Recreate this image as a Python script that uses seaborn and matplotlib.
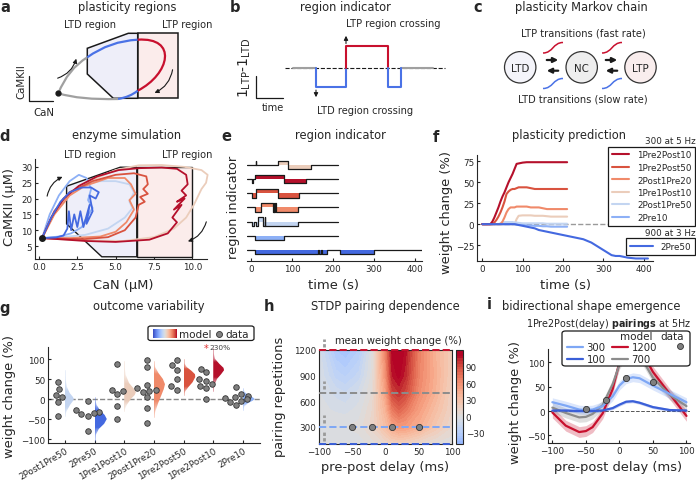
import numpy as np
import pandas as pd
import matplotlib
matplotlib.use("Agg")
import matplotlib.pyplot as plt
import seaborn as sns
from matplotlib.patches import Polygon, Circle, FancyArrowPatch, FancyBboxPatch, PathPatch
from matplotlib.path import Path
from matplotlib.lines import Line2D
from matplotlib.transforms import ScaledTranslation

W, H = 696, 481

# ---------------- data ----------------
conditions = ["2Post1Pre50", "2Pre50", "1Pre1Post10", "2Post1Pre20",
              "1Pre2Post50", "1Pre2Post10", "2Pre10"]
cond_colors = {"1Pre2Post10": "#b5102b", "1Pre2Post50": "#d9533f",
               "2Post1Pre20": "#f08a6a", "1Pre1Post10": "#ebcdbb",
               "2Post1Pre50": "#c3d5f1", "2Pre10": "#8db0f6", "2Pre50": "#4469e0"}

# d: enzyme trajectories (CaN, CaMKII) in uM
d_1Pre1Post10 = ([0.2, 1.0, 2.0, 3.5, 5.0, 6.5, 8.0, 9.5, 10.6, 11.0, 10.9, 10.6, 10.4, 10.1, 9.6, 8.8, 7.5, 5.5, 3.0, 1.2, 0.2],
                 [7.5, 15, 21, 26, 29, 30.5, 30.6, 30, 29, 27.5, 25, 23, 21, 18, 14, 10.5, 7.8, 6.6, 6.8, 7.2, 7.5])
d_1Pre2Post10 = ([0.2, 0.8, 1.6, 2.6, 3.8, 5.2, 6.5, 8.0, 9.0, 9.6, 9.7, 9.3, 9.6, 9.0, 9.5, 8.8, 9.3, 8.7, 9.0, 8.4, 7.2, 5.0, 3.0, 1.5, 0.2],
                 [7.5, 14, 20, 24, 27, 29, 29.6, 29.8, 29.4, 27.5, 24.5, 22.5, 21, 19, 20, 16.5, 18, 14, 12.5, 9, 7, 6.3, 6.6, 7.1, 7.5])
d_1Pre2Post50 = ([0.2, 1.0, 2.0, 3.5, 5.0, 6.2, 7.0, 7.1, 6.8, 7.1, 6.6, 6.9, 6.5, 6.3, 5.6, 4.5, 3.0, 1.5, 0.2],
                 [7.5, 16, 22, 25.5, 27.5, 28, 27, 24.5, 23, 21.5, 20.5, 19, 18, 14, 10, 7.8, 7.2, 7.3, 7.5])
d_2Post1Pre20 = ([0.2, 1.0, 2.0, 3.0, 4.5, 5.6, 6.0, 6.3, 5.9, 6.2, 5.7, 5.0, 4.0, 2.0, 0.2],
                 [7.5, 15, 21, 24, 26.5, 26.5, 24.5, 21.5, 19.5, 16.5, 12.5, 9.5, 8.0, 7.5, 7.5])
d_2Post1Pre50 = ([0.2, 1.0, 2.0, 3.0, 4.0, 5.0, 5.9, 6.2, 5.9, 6.1, 5.6, 4.5, 3.0, 1.5, 0.2],
                 [7.5, 16, 22, 24.5, 25.5, 25.5, 24.5, 22, 19, 17, 14, 10.5, 8.5, 7.8, 7.5])
d_2Pre10 = ([0.2, 0.7, 1.3, 2.0, 2.6, 3.1, 3.4, 3.2, 3.5, 3.1, 2.8, 2.1, 1.3, 0.2],
            [7.5, 15, 21, 25.5, 27.5, 26.5, 23, 19.5, 17, 14, 11, 9, 8, 7.5])
d_2Pre50 = ([0.2, 0.8, 1.4, 2.0, 2.8, 3.4, 3.9, 3.7, 3.3, 3.5, 3.1, 3.3, 2.9, 2.7, 2.5, 2.3, 2.1, 1.95, 1.85, 1.6, 1.1, 0.2],
            [7.5, 14, 19, 22, 23.5, 23.5, 22, 20, 21, 16, 12, 18, 11, 16, 11, 15, 10, 16, 10.5, 8.3, 7.7, 7.5])

# e: region indicator (switch times in s, state +1 LTP / -1 LTD)
e_1Pre1Post10 = ([-10, 12, 13, 67, 91, 146, 212], [0, 1, 0, 1, -1, 0, 0])
e_1Pre2Post10 = ([-10, 3, 5, 10, 81, 134, 212], [0, -1, 0, 1, -1, 0, 0])
e_1Pre2Post50 = ([-10, 3, 12, 65, 118, 212], [0, -1, 1, -1, 0, 0])
e_2Post1Pre20 = ([-10, 10, 24, 53, 55, 57, 59, 61, 115, 212], [0, -1, 1, -1, 1, -1, 1, -1, 0, 0])
e_2Post1Pre50 = ([-10, 3, 8, 11, 18, 30, 33, 35, 115, 212], [0, -1, 0, -1, 1, -1, 1, -1, 0, 0])
e_2Pre10 = ([-10, 10, 81, 212], [0, -1, 0, 0])
e_2Pre50 = ([-10, 10, 164, 165, 170, 172, 185, 217, 300, 416], [0, -1, 0, -1, 0, -1, 0, -1, 0, 0])
e_order = ["1Pre1Post10", "1Pre2Post10", "1Pre2Post50", "2Post1Pre20", "2Post1Pre50", "2Pre10", "2Pre50"]

# f: weight change over time
f_t300 = [0, 10, 20, 25, 30, 35, 40, 45, 50, 55, 60, 65, 70, 75, 80, 85, 90, 100, 110, 120,
          130, 140, 150, 160, 170, 180, 190, 200, 210]
f_1Pre2Post10 = [0, 0, 0, 3, 8, 14, 20, 27, 33, 38, 44, 50, 55, 60, 66, 72, 72.5, 73.5, 74, 74,
                 74, 74, 74, 74, 74, 74, 74, 74, 74]
f_1Pre2Post50 = [0, 0, 0, 0, 2, 5, 9, 14, 20, 27, 36, 39, 41, 42, 42, 43, 44, 44, 44, 43,
                 42, 42, 42, 42, 42, 42, 42, 42, 42]
f_2Post1Pre20 = [0, 0, 0, 0, 0, 0, 0, 0, 3, 8, 14, 18, 20, 20, 20, 21, 21, 21, 21, 20,
                 20, 20, 19, 18, 18, 18, 18, 18, 18]
f_1Pre1Post10 = [0, 0, 0, 0, 0, 0, 0, 0, 0, 0, 0, 0, 0, 0, 0, 6, 10, 10.5, 10.5, 10.5,
                 10, 10, 10, 9.5, 9, 9, 9, 9, 9]
f_2Post1Pre50 = [0, 0, 0, 0, 0, 0, 0, 1, 2, 2.5, 2.5, 2.5, 2.5, 2.5, 2, 2, 1.5, 1, 1, 1,
                 1, 1, 1, 0.5, 0.5, 0.5, 0.5, 0.5, 0.5]
f_2Pre10 = [0, 0, 0, 0, 0, 0, 0, 0, 0, 0, 0, 0, 0, 0, 0, -0.5, -1, -1, -1.5, -1.5,
            -2, -2, -2.5, -2.5, -3, -3, -3, -3, -3]
f_t900 = [0, 80, 90, 100, 110, 120, 130, 140, 150, 160, 170, 180, 190, 200, 210, 220, 230,
          240, 250, 260, 270, 280, 290, 300, 310, 320, 330, 340, 350, 360, 380, 400, 410]
f_2Pre50 = [0, 0, -1, -2, -3, -4, -5, -7, -8, -9, -10, -11, -12, -13, -14, -15, -16,
            -17, -18, -20, -22, -25, -28, -31, -34, -37, -38, -38, -39, -40, -41, -41, -41]
f_legend_300 = ["1Pre2Post10", "1Pre2Post50", "2Post1Pre20", "1Pre1Post10", "2Post1Pre50", "2Pre10"]

# g: experimental data points and model distributions (profile: values, half widths)
g_dots = {
    "2Post1Pre50": [42, 25, 11, 5, -8, -43],
    "2Pre50": [-5, -28, -32, -35, -38, -42, -80],
    "1Pre1Post10": [88, 23, 20, 13, -17, -50],
    "2Post1Pre20": [97, 80, 35, 27, 22, 20, 17, 5, -22, -60],
    "1Pre2Post50": [97, 85, 73, 50, 32, 22],
    "1Pre2Post10": [75, 67, 50, 45, 38, 32, 28, 0],
    "2Pre10": [30, 12, 8, 5, 2, 0, -4, -8, -15],
}
g_model_y = {
    "2Post1Pre50": [-42, -30, -15, -5, 0, 5, 15, 30, 50, 72],
    "2Pre50": [-105, -90, -75, -62, -50, -40, -28, -15, 0, 5],
    "1Pre1Post10": [-30, -15, 0, 10, 17, 25, 40, 60, 80, 95],
    "2Post1Pre20": [-45, -30, -10, 10, 25, 37, 50, 65, 80, 95],
    "1Pre2Post50": [10, 20, 30, 42, 55, 62, 70, 80, 90, 100],
    "1Pre2Post10": [20, 35, 50, 62, 72, 78, 88, 100, 115, 128],
    "2Pre10": [-28, -18, -10, -4, 0, 4, 10, 18, 28],
}
g_model_w = {
    "2Post1Pre50": [0, 0.06, 0.17, 0.27, 0.3, 0.27, 0.16, 0.07, 0.02, 0],
    "2Pre50": [0, 0.04, 0.14, 0.32, 0.41, 0.34, 0.18, 0.07, 0.01, 0],
    "1Pre1Post10": [0, 0.08, 0.22, 0.35, 0.39, 0.33, 0.16, 0.05, 0.01, 0],
    "2Post1Pre20": [0, 0.05, 0.14, 0.25, 0.33, 0.37, 0.3, 0.15, 0.04, 0],
    "1Pre2Post50": [0, 0.06, 0.16, 0.3, 0.39, 0.38, 0.27, 0.1, 0.02, 0],
    "1Pre2Post10": [0, 0.04, 0.12, 0.26, 0.36, 0.34, 0.2, 0.06, 0.01, 0],
    "2Pre10": [0, 0.05, 0.17, 0.33, 0.39, 0.33, 0.17, 0.05, 0],
}

# h: mean weight change (%) over delay x repetitions
h_delays = [-100, -75, -60, -40, -20, 0, 10, 20, 30, 50, 75, 100]
h_reps = [100, 300, 500, 700, 900, 1200]
h_change = [
    [-5, -5, -5, -3, 2, 10, 14, 15, 14, 8, 3, 0],
    [0, 0, 0, 2, 12, 32, 47, 54, 52, 42, 24, 10],
    [-3, -6, -7, -3, 10, 40, 70, 80, 72, 52, 32, 14],
    [-5, -12, -15, -8, 5, 50, 92, 100, 92, 62, 40, 15],
    [-5, -22, -26, -18, 2, 58, 105, 112, 102, 66, 42, 18],
    [-8, -35, -40, -30, 0, 65, 112, 118, 108, 68, 40, 20],
]
h_lines = [1200, 700, 300, 100]

# i: model curves and data
i_delays = [-100, -80, -60, -50, -40, -25, -10, 0, 10, 20, 30, 50, 75, 100]
i_100 = [1, 1, 0, 0, 0, 1, 6, 13, 19, 20, 17, 8, 2, 1]
i_300 = [18, 11, 3, 2, 3, 10, 30, 52, 65, 69, 67, 52, 35, 18]
i_700 = [7, -4, -13, -12, -6, 12, 55, 95, 120, 128, 115, 68, 33, 10]
i_1200 = [-3, -30, -43, -41, -33, -5, 45, 100, 135, 140, 130, 80, 35, -10]
i_band = {"100": 3, "300": 9, "700": 10, "1200": 11}
data_delays = [-50, -20, 10, 50]
data_change = [5, 23, 68, 60]
rep_colors = {"100": "#3a5fd8", "300": "#7ea7f5", "700": "#8c8c8c", "1200": "#c8102e"}

# ---------------- style ----------------
sns.set_theme(style="ticks", rc={
    "axes.linewidth": 0.8, "xtick.direction": "in", "ytick.direction": "in",
    "xtick.major.size": 2.5, "ytick.major.size": 2.5,
    "xtick.major.width": 0.8, "ytick.major.width": 0.8,
    "xtick.labelsize": 6.3, "ytick.labelsize": 6.3,
    "xtick.major.pad": 2, "ytick.major.pad": 2,
    "axes.labelsize": 9.4, "legend.fontsize": 6.3})
plt.rcParams["font.family"] = ["DejaVu Sans"]

fig = plt.figure(figsize=(6.96, 4.81), dpi=100)


def frect(l, t, r, b):
    return [l / W, 1 - b / H, (r - l) / W, (b - t) / H]


def ftext(x, y, s, **kw):
    fig.text(x / W, 1 - y / H, s, **kw)


def place_labels(ax, rect, xl=None, yl=None):
    l, t, r, b = rect
    if xl:
        ax.set_xlabel(xl[0], ha="center", va="center")
        ax.xaxis.set_label_coords((xl[1] - l) / (r - l), (b - xl[2]) / (b - t))
    if yl:
        ax.set_ylabel(yl[0], ha="center", va="center")
        ax.yaxis.set_label_coords((yl[1] - l) / (r - l), (b - yl[2]) / (b - t))


# schematic canvas in pixel units
cv = fig.add_axes([0, 0, 1, 1])
cv.set_xlim(0, W)
cv.set_ylim(H, 0)
cv.axis("off")

titles = [(127.5, 8, "plasticity regions"), (345, 7, "region indicator"),
          (581, 8, "plasticity Markov chain"), (126.7, 136, "enzyme simulation"),
          (340, 136, "region indicator"), (568.7, 136, "plasticity prediction"),
          (149, 307, "outcome variability"), (385, 307, "STDP pairing dependence"),
          (591.7, 307, "bidirectional shape emergence")]
for x, y, s in titles:
    ftext(x, y, s, ha="center", va="center", fontsize=8.3)
for x, y, s in [(5, 8, "a"), (235, 7, "b"), (478, 8, "c"), (5, 137, "d"), (226, 137, "e"),
                (436, 138, "f"), (5, 308, "g"), (269, 307, "h"), (489, 305, "i")]:
    ftext(x, y, s, ha="center", va="center", fontsize=10.5, fontweight="bold")

# ---- a: plasticity regions schematic ----
cv.add_patch(Polygon([(87.3, 49.3), (128.3, 34.3), (137.7, 34.3), (137.7, 99.3), (113.3, 99.3), (87.3, 75)],
                     closed=True, fc="#eeeef9", ec="k", lw=1.1))
cv.add_patch(Polygon([(137.7, 34.3), (177.7, 34.3), (177.7, 99.3), (137.7, 99.3)],
                     closed=True, fc="#fbeceb", ec="k", lw=1.1))
C3, C4, M = Path.CURVE3, Path.CURVE4, Path.MOVETO
for pts, codes, col in [
        ([(58.3, 94.3), (68, 70), (87.3, 58.3)], [M, C3, C3], "#a0a0a0"),
        ([(87.3, 58.3), (110, 42), (137.7, 40.7)], [M, C3, C3], "#4a72e6"),
        ([(137.7, 40.7), (178, 38), (170, 75), (137.7, 91.7)], [M, C4, C4, C4], "#c8102e"),
        ([(137.7, 91.7), (130, 98), (118, 100)], [M, C3, C3], "#4a72e6"),
        ([(118, 100), (80, 101), (58.3, 94.3)], [M, C3, C3], "#a0a0a0")]:
    cv.add_patch(PathPatch(Path(pts, codes), fill=False, ec=col, lw=1.6))
cv.plot([58.3], [94.3], "o", color="k", ms=3.5)
cv.add_patch(FancyArrowPatch((55, 80), (77, 57), connectionstyle="arc3,rad=0.3",
                             arrowstyle="-|>", mutation_scale=6, lw=0.8, color="k"))
cv.add_patch(FancyArrowPatch((173, 68), (152, 95), connectionstyle="arc3,rad=-0.3",
                             arrowstyle="-|>", mutation_scale=6, lw=0.8, color="k"))
cv.plot([29.3, 29.3, 53.3], [77, 101.7, 101.7], color="k", lw=0.9)
cv.text(21, 82, "CaMKII", rotation=90, ha="center", va="center", fontsize=7.4)
cv.text(44.3, 113.3, "CaN", ha="center", va="center", fontsize=7.4)
cv.text(90, 25, "LTD region", ha="center", va="center", fontsize=7.1)
cv.text(186.7, 25, "LTP region", ha="center", va="center", fontsize=7.1)

# ---- b: region indicator schematic ----
cv.plot([285, 445], [69, 69], color="k", ls="--", lw=0.8)
cv.plot([293, 316], [69, 69], color="#a0a0a0", lw=1.5)
cv.plot([400.7, 432.7], [69, 69], color="#a0a0a0", lw=1.5)
cv.plot([316, 316, 346, 346], [69, 88.3, 88.3, 69], color="#4a72e6", lw=1.5)
cv.plot([346, 346, 387.7, 387.7], [69, 47.3, 47.3, 69], color="#c8102e", lw=1.5)
cv.plot([387.7, 387.7, 400.7, 400.7], [69, 88.3, 88.3, 69], color="#4a72e6", lw=1.5)
cv.annotate("", xy=(346, 34), xytext=(346, 47.3),
            arrowprops=dict(arrowstyle="-|>", lw=0.8, color="k", mutation_scale=6))
cv.annotate("", xy=(316, 101), xytext=(316, 88.3),
            arrowprops=dict(arrowstyle="-|>", lw=0.8, color="k", mutation_scale=6))
cv.text(393.3, 24, "LTP region crossing", ha="center", va="center", fontsize=7.1)
cv.text(365, 110.7, "LTD region crossing", ha="center", va="center", fontsize=7.1)
cv.plot([256, 256, 282.7], [76.7, 99, 99], color="k", lw=0.9)
cv.text(273.3, 108.3, "time", ha="center", va="center", fontsize=7.1)
cv.text(245, 68, r"$1_{\rm LTP}$-$1_{\rm LTD}$", rotation=90, ha="center", va="center", fontsize=10)

# ---- c: Markov chain schematic ----
for cx, lab, fc in [(520.2, "LTD", "#f4f4fa"), (581.7, "NC", "#eeeeee"), (640.5, "LTP", "#f9eded")]:
    cv.add_patch(Circle((cx, 68.3), 15.7, fc=fc, ec="#333333", lw=0.9))
    cv.text(cx, 68.8, lab, ha="center", va="center", fontsize=7.4)
for x0 in (544, 603):
    cv.annotate("", xy=(x0 + 17, 61), xytext=(x0, 61),
                arrowprops=dict(arrowstyle="-|>", lw=1.6, color="k", mutation_scale=7))
    cv.annotate("", xy=(x0, 71.7), xytext=(x0 + 17, 71.7),
                arrowprops=dict(arrowstyle="-|>", lw=1.6, color="k", mutation_scale=7))
    cv.add_patch(PathPatch(Path([(x0 - 1, 54), (x0 + 9, 54), (x0 + 9, 43.5), (x0 + 19, 43.5)], [M, C4, C4, C4]),
                           fill=False, ec="#c8102e", lw=1.1))
    cv.add_patch(PathPatch(Path([(x0 - 1, 89.5), (x0 + 9, 89.5), (x0 + 9, 79.5), (x0 + 19, 79.5)], [M, C4, C4, C4]),
                           fill=False, ec="#4a72e6", lw=1.1))
cv.text(583, 33.3, "LTP transitions (fast rate)", ha="center", va="center", fontsize=7.1)
cv.text(583, 100, "LTD transitions (slow rate)", ha="center", va="center", fontsize=7.1)

# ---- d: enzyme simulation ----
rd = (35, 160, 207, 260)
ax = fig.add_axes(frect(*rd))
ax.add_patch(Polygon([(1.8, 23.9), (5.3, 29.9), (6.38, 29.9), (6.38, 1.6), (4.1, 1.6), (1.8, 12)],
                     closed=True, fc="#eeeef9", ec="k", lw=1.0, zorder=1))
ax.add_patch(Polygon([(6.38, 1.6), (10, 1.6), (10, 29.9), (6.38, 29.9)],
                     closed=True, fc="#fbeceb", ec="k", lw=1.0, zorder=1))
for name, tr in [("1Pre1Post10", d_1Pre1Post10), ("2Post1Pre50", d_2Post1Pre50),
                 ("2Pre10", d_2Pre10), ("2Post1Pre20", d_2Post1Pre20),
                 ("1Pre2Post50", d_1Pre2Post50), ("1Pre2Post10", d_1Pre2Post10), ("2Pre50", d_2Pre50)]:
    ax.plot(tr[0], tr[1], color=cond_colors[name], lw=1.3, zorder=2, clip_on=False)
ax.plot([0.2], [7.5], "o", color="k", ms=4, zorder=3)
ax.add_patch(FancyArrowPatch((0.5, 19.9), (1.7, 27.2), connectionstyle="arc3,rad=-0.3",
                             arrowstyle="-|>", mutation_scale=6, lw=0.8, color="k", zorder=4))
ax.add_patch(FancyArrowPatch((10.96, 13.5), (9.54, 6.2), connectionstyle="arc3,rad=-0.3",
                             arrowstyle="-|>", mutation_scale=6, lw=0.8, color="k", zorder=4,
                             clip_on=False))
ax.set_xlim(-0.26, 10.96)
ax.set_ylim(0.9, 32.5)
ax.set_xticks([0, 2.5, 5, 7.5, 10])
ax.set_xticklabels(["0.0", "2.5", "5.0", "7.5", "10.0"])
ax.set_yticks([5, 10, 15, 20, 25, 30])
sns.despine(ax=ax)
place_labels(ax, rd, ("CaN (μM)", 123, 285), ("CaMKII (μM)", 10, 207))
ftext(90, 155, "LTD region", ha="center", va="center", fontsize=7.1)
ftext(186.7, 155, "LTP region", ha="center", va="center", fontsize=7.1)

# ---- e: region indicator traces ----
re_ = (247, 158, 422, 262)
ax = fig.add_axes(frect(*re_))
e_rows = {"1Pre1Post10": e_1Pre1Post10, "1Pre2Post10": e_1Pre2Post10,
          "1Pre2Post50": e_1Pre2Post50, "2Post1Pre20": e_2Post1Pre20,
          "2Post1Pre50": e_2Post1Pre50, "2Pre10": e_2Pre10, "2Pre50": e_2Pre50}
for k, name in enumerate(e_order):
    t, s = e_rows[name]
    base = -k
    y = base + 0.3 * np.asarray(s, float)
    ax.fill_between(t, base, y, step="post", color=cond_colors[name], lw=0)
    ax.step(t, y, where="post", color="k", lw=0.9)
ax.set_xlim(-9.8, 417)
ax.set_ylim(-6.78, 0.56)
ax.set_yticks([])
ax.set_xticks([0, 100, 200, 300, 400])
sns.despine(ax=ax, left=True)
place_labels(ax, re_, ("time (s)", 333, 285), ("region indicator", 233, 207))

# ---- f: plasticity prediction ----
rf = (477, 156, 653, 262)
ax = fig.add_axes(frect(*rf))
ax.plot([0, 420], [0, 0], color="#9a9a9a", ls="--", lw=1, zorder=0)
f_series = [("1Pre1Post10", f_t300, f_1Pre1Post10), ("2Post1Pre50", f_t300, f_2Post1Pre50),
            ("2Pre10", f_t300, f_2Pre10), ("2Post1Pre20", f_t300, f_2Post1Pre20),
            ("1Pre2Post50", f_t300, f_1Pre2Post50), ("1Pre2Post10", f_t300, f_1Pre2Post10),
            ("2Pre50", f_t900, f_2Pre50)]
df_f = pd.concat([pd.DataFrame({"time": t, "change": v, "protocol": n}) for n, t, v in f_series])
sns.lineplot(data=df_f, x="time", y="change", hue="protocol", palette=cond_colors,
             hue_order=[n for n, _, _ in f_series], estimator=None, sort=False,
             lw=1.5, legend=False, ax=ax)
ax.set_xlim(-13, 422.5)
ax.set_ylim(-44, 82.6)
ax.set_xticks([0, 100, 200, 300, 400])
ax.set_yticks([-25, 0, 25, 50, 75])
sns.despine(ax=ax)
place_labels(ax, rf, ("time (s)", 565, 285), ("weight change (%)", 447, 212))
h1 = [Line2D([], [], color=cond_colors[n], lw=1.5) for n in f_legend_300]
leg1 = ax.legend(h1, f_legend_300, loc="upper right", bbox_to_anchor=(695 / W, 1 - 148 / H),
                 bbox_transform=fig.transFigure, borderaxespad=0, frameon=True, fancybox=False,
                 edgecolor="k", framealpha=1, handlelength=2.0, handletextpad=0.9,
                 labelspacing=0.4, borderpad=0.4)
leg1.get_frame().set_linewidth(0.9)
ax.add_artist(leg1)
leg2 = ax.legend([Line2D([], [], color=cond_colors["2Pre50"], lw=1.5)], ["2Pre50"],
                 loc="upper right", bbox_to_anchor=(695 / W, 1 - 239 / H),
                 bbox_transform=fig.transFigure, borderaxespad=0, frameon=True, fancybox=False,
                 edgecolor="k", framealpha=1, handlelength=2.6, handletextpad=0.9, borderpad=0.45)
leg2.get_frame().set_linewidth(0.9)
ftext(670, 142, "300 at 5 Hz", ha="center", va="center", fontsize=6.3)
ftext(670, 234, "900 at 3 Hz", ha="center", va="center", fontsize=6.3)

# ---- g: outcome variability ----
rg = (48, 348, 260, 444)
ax = fig.add_axes(frect(*rg))
ax.axhline(0, color="#888888", ls="--", lw=1, zorder=0)
for pos, name in enumerate(conditions):
    ys = np.asarray(g_model_y[name], float)
    ws = np.asarray(g_model_w[name], float)
    verts = [(pos, ys[0])] + [(pos + w, y) for y, w in zip(ys, ws)] + [(pos, ys[-1])]
    poly = Polygon(verts, closed=True, fc="none", ec="none")
    ax.add_patch(poly)
    grid = np.linspace(ys[0], ys[-1], 200)
    rgba = np.zeros((200, 1, 4))
    rgba[..., :3] = matplotlib.colors.to_rgb(cond_colors[name])
    rgba[:, 0, 3] = np.clip(2.2 * np.interp(grid, ys, ws) / ws.max(), 0, 1) ** 0.8
    im = ax.imshow(rgba, extent=[pos, pos + ws.max(), ys[0], ys[-1]], origin="lower",
                   aspect="auto", zorder=2, interpolation="bilinear")
    im.set_clip_path(poly)
    ax.plot([pos, pos], [ys[0], ys[-1]], color=cond_colors[name], lw=0.5, alpha=0.5, zorder=2)
df_g = pd.DataFrame([(c, v) for c in conditions for v in g_dots[c]], columns=["protocol", "change"])
sns.swarmplot(data=df_g, x="protocol", y="change", order=conditions, color="#808080",
              edgecolor="#333333", linewidth=0.6, size=4.0, ax=ax, zorder=3)
shift = ScaledTranslation(-0.07, 0, fig.dpi_scale_trans)
for coll in ax.collections:
    coll.set_offset_transform(ax.transData + shift)
ax.text(4.75, 128, "*", color="#e03030", fontsize=7, ha="center", va="center", clip_on=False)
ax.text(4.86, 129, "230%", color="#444444", fontsize=5.3, ha="left", va="center", clip_on=False)
ax.set_xlim(-0.57, 6.57)
ax.set_ylim(-110, 130)
ax.set_yticks([-100, -50, 0, 50, 100])
ax.set_xticks(range(len(conditions)))
ax.set_xticklabels(conditions, rotation=30, ha="right", rotation_mode="anchor", fontsize=6.3)
ax.set_xlabel("")
sns.despine(ax=ax)
place_labels(ax, rg, None, ("weight change (%)", 10, 397))
fig.add_artist(FancyBboxPatch((148 / W, 1 - 341.5 / H), 106 / W, 14.5 / H,
                              boxstyle="round,pad=0,rounding_size=0.004",
                              transform=fig.transFigure, fc="white", ec="k", lw=0.9, zorder=4))
gax = fig.add_axes(frect(153, 330, 176, 338.5), zorder=6)
gax.imshow(np.linspace(0, 1, 64)[None, :], cmap="coolwarm", aspect="auto")
gax.axis("off")
ftext(179, 334.5, "model", ha="left", va="center", fontsize=7.5, zorder=6)
ftext(225, 334.5, "data", ha="left", va="center", fontsize=7.5, zorder=6)
fig.add_artist(Line2D([219 / W], [1 - 334.5 / H], transform=fig.transFigure, marker="o", ms=4.3,
                      color="#808080", mec="#333333", mew=0.6, ls="none", zorder=6))

# ---- h: STDP pairing dependence ----
rh = (319, 351, 452, 445)
ax = fig.add_axes(frect(*rh))
cs = ax.contourf(h_delays, h_reps, h_change, levels=np.linspace(-50, 120, 35),
                 cmap="coolwarm", vmin=-110, vmax=110)
for reps, key in zip(h_lines, ["1200", "700", "300", "100"]):
    ax.axhline(reps, color=rep_colors[key], ls="--", lw=1.4, zorder=3, clip_on=False)
for lo, hi in [(1235, 1330), (747, 836), (348, 445), (132, 238)]:
    ax.plot([-92, -92], [lo, hi], color="#9a9a9a", lw=2, ls=(0, (1.2, 0.8)), clip_on=False, zorder=4)
sns.scatterplot(x=data_delays, y=[300] * len(data_delays), color="#808080", edgecolor="#333333",
                linewidth=0.6, s=20, ax=ax, zorder=5, legend=False)
ax.set_xlim(-100, 100)
ax.set_ylim(100, 1200)
ax.set_xticks([-100, -50, 0, 50, 100])
ax.set_yticks([300, 600, 900, 1200])
for sp in ax.spines.values():
    sp.set_visible(True)
    sp.set_linewidth(0.8)
place_labels(ax, rh, ("pre-post delay (ms)", 385, 468), ("pairing repetitions", 280, 397))
cax = fig.add_axes(frect(456, 351, 463, 445))
cb = fig.colorbar(cs, cax=cax, ticks=[-30, 0, 30, 60, 90])
cb.outline.set_linewidth(0.8)
cax.tick_params(labelsize=6.3, direction="in", length=2)
ftext(398, 340.5, "mean weight change (%)", ha="center", va="center", fontsize=7.3)

# ---- i: bidirectional shape emergence ----
ri = (548, 350, 690, 444)
ax = fig.add_axes(frect(*ri))
ax.axhline(0, color="#555555", ls="--", lw=0.7, zorder=0)
i_curves = {"1200": i_1200, "700": i_700, "300": i_300, "100": i_100}
for key, vals in i_curves.items():
    v = np.asarray(vals, float)
    ax.fill_between(i_delays, v - i_band[key], v + i_band[key], color=rep_colors[key],
                    alpha=0.28, lw=0)
df_i = pd.concat([pd.DataFrame({"delay": i_delays, "change": v, "reps": k}) for k, v in i_curves.items()])
sns.lineplot(data=df_i, x="delay", y="change", hue="reps", palette=rep_colors,
             hue_order=list(i_curves), estimator=None, sort=False, lw=1.6, legend=False, ax=ax)
sns.scatterplot(x=data_delays, y=data_change, color="#808080", edgecolor="#333333",
                linewidth=0.6, s=20, ax=ax, zorder=5, legend=False)
ax.set_xlim(-106.5, 105.3)
ax.set_ylim(-65.4, 126.8)
ax.set_xticks([-100, -50, 0, 50, 100])
ax.set_yticks([-50, 0, 50, 100])
sns.despine(ax=ax)
place_labels(ax, ri, ("pre-post delay (ms)", 618, 468), ("weight change (%)", 515, 403))
ftext(608, 324, r"1Pre2Post(delay) $\bf{pairings}$ at 5Hz", ha="center", va="center", fontsize=6.9)
fig.add_artist(FancyBboxPatch((562 / W, 1 - 367 / H), 128 / W, 35 / H,
                              boxstyle="round,pad=0,rounding_size=0.005",
                              transform=fig.transFigure, fc="white", ec="k", lw=0.9, zorder=4))
ftext(636.7, 337.5, "model", ha="center", va="center", fontsize=7.5, zorder=6)
ftext(672.3, 337.5, "data", ha="center", va="center", fontsize=7.5, zorder=6)
fig.add_artist(Line2D([680 / W], [1 - 347 / H], transform=fig.transFigure, marker="o", ms=4.3,
                      color="#808080", mec="#333333", mew=0.6, ls="none", zorder=6))
for key, x0, y0 in [("300", 567, 348.3), ("100", 567, 360), ("1200", 612, 348.3), ("700", 612, 360)]:
    fig.add_artist(Line2D([x0 / W, (x0 + 16) / W], [1 - y0 / H] * 2, transform=fig.transFigure,
                          color=rep_colors[key], lw=1.6, zorder=6))
    ftext(x0 + 19.5, y0, key, ha="left", va="center", fontsize=7.3, zorder=6)

fig.savefig("out.png", dpi=100)
